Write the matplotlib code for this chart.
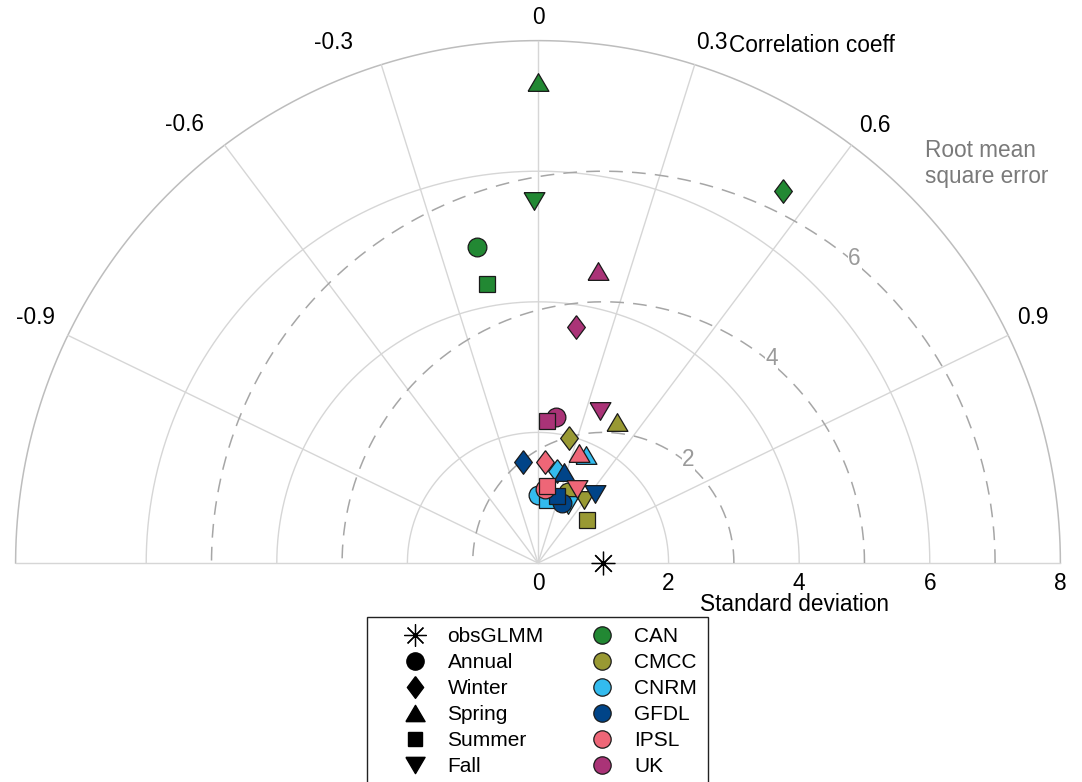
import numpy as np
import matplotlib.pyplot as plt
from matplotlib.lines import Line2D

plt.rcParams['font.family'] = ['Liberation Sans', 'DejaVu Sans']

# model names and colours
models = ['CAN', 'CMCC', 'CNRM', 'GFDL', 'IPSL', 'UK']
model_colors = ['#228833', '#999933', '#33bbee', '#004488', '#ee6677', '#aa3377']
seasons = ['Annual', 'Winter', 'Spring', 'Summer', 'Fall']

# standard deviation / correlation per model, order: annual, winter, spring, summer, fall
std_can = [4.93, 6.83, 7.37, 4.34, 5.54]
cor_can = [-0.19, 0.55, 0.00, -0.18, -0.01]
std_cmcc = [1.18, 1.97, 2.48, 1.00, 1.20]
cor_cmcc = [0.39, 0.24, 0.49, 0.75, 0.59]
std_cnrm = [1.04, 1.44, 1.81, 0.98, 1.00]
cor_cnrm = [0.00, 0.20, 0.41, 0.14, 0.46]
std_gfdl = [0.99, 1.56, 1.45, 1.07, 1.37]
cor_gfdl = [0.37, -0.15, 0.27, 0.27, 0.64]
std_ipsl = [1.14, 1.55, 1.80, 1.19, 1.28]
cor_ipsl = [0.09, 0.07, 0.35, 0.12, 0.47]
std_uk = [2.25, 3.66, 4.56, 2.18, 2.51]
cor_uk = [0.12, 0.16, 0.20, 0.06, 0.38]

std_obs = 1.0

corr_ticks = [-0.9, -0.6, -0.3, 0.0, 0.3, 0.6, 0.9]
corr_labels = ['-0.9', '-0.6', '-0.3', '0', '0.3', '0.6', '0.9']
std_ticks = [0, 2, 4, 6, 8]
rms_levels = [2, 4, 6]

all_std = [std_can, std_cmcc, std_cnrm, std_gfdl, std_ipsl, std_uk]
all_cor = [cor_can, cor_cmcc, cor_cnrm, cor_gfdl, cor_ipsl, cor_uk]

# marker shapes (matlab-like proportions)
tri_up = [(-1, -0.85), (1, -0.85), (0, 0.85), (-1, -0.85)]
tri_dn = [(-1, 0.85), (1, 0.85), (0, -0.85), (-1, 0.85)]
diamond = [(0, 1), (0.75, 0), (0, -1), (-0.75, 0), (0, 1)]
season_markers = ['o', diamond, tri_up, 's', tri_dn]
season_sizes = [13.5, 17, 15, 11, 15]

RMAX = 8
FS = 16.3

fig = plt.figure(figsize=(10.82, 7.82), dpi=100)
ax = fig.add_axes([0, 0, 1, 1])
ax.set_xlim(-8.239, 8.331)
ax.set_ylim(-3.354, 8.622)
ax.axis('off')

th = np.linspace(0, np.pi, 500)
grid_c = '#d6d6d6'

# std circles and outer rim
for s in std_ticks[1:-1]:
    ax.plot(s * np.cos(th), s * np.sin(th), color=grid_c, lw=1.0, zorder=1)
ax.plot(RMAX * np.cos(th), RMAX * np.sin(th), color='#bdbdbd', lw=1.1, zorder=1)
ax.plot([-RMAX, RMAX], [0, 0], color=grid_c, lw=1.0, zorder=1)

# correlation spokes and labels
lab_shift = [-0.2, 2.0, 4.0, 0.0, -1.0, -0.7, 0.5]
lab_rad = [8.57, 8.63, 8.57, 8.35, 8.41, 8.46, 8.46]
for c, lab, dsh, rr in zip(corr_ticks, corr_labels, lab_shift, lab_rad):
    a = np.arccos(c)
    ax.plot([0, RMAX * np.cos(a)], [0, RMAX * np.sin(a)], color=grid_c, lw=1.0, zorder=1)
    b = a + np.deg2rad(dsh)
    ax.text(rr * np.cos(b), rr * np.sin(b), lab, ha='center', va='center', fontsize=FS)

# std tick labels along the positive axis
for s in std_ticks:
    ax.text(s, -0.31, str(s), ha='center', va='center', fontsize=FS)

# RMSE contours around the reference
for r in rms_levels:
    ax.plot(std_obs + r * np.cos(th), r * np.sin(th), color='#a6a6a6', lw=1.1,
            dashes=(9, 6), zorder=2)
    ang = np.deg2rad(50.5)
    ax.text(std_obs + (r + 0.05) * np.cos(ang), (r + 0.05) * np.sin(ang), str(r),
            color='#9a9a9a', fontsize=FS, ha='center', va='center', zorder=3,
            bbox=dict(fc='white', ec='none', pad=0.5))

ax.text(2.92, 7.93, 'Correlation coeff', fontsize=FS, ha='left', va='center')
ax.text(5.93, 6.12, 'Root mean\nsquare error', fontsize=FS, ha='left', va='center',
        color='#7a7a7a', linespacing=1.15)
ax.text(2.48, -0.64, 'Standard deviation', fontsize=FS, ha='left', va='center')

# model points
for std_m, cor_m, col in zip(all_std, all_cor, model_colors):
    for s, c, mk, ms in zip(std_m, cor_m, season_markers, season_sizes):
        a = np.arccos(c)
        ax.plot(s * np.cos(a), s * np.sin(a), ls='none', marker=mk, ms=ms,
                mfc=col, mec='#1a1a1a', mew=0.9, zorder=4)

# observation reference
ax.plot(std_obs, 0, ls='none', marker=(8, 2, 0), ms=17, color='k', mew=0.9, zorder=5)

# legend
handles = [Line2D([], [], ls='none', marker=(8, 2, 0), ms=16, color='k', mew=0.9)]
labels = ['obsGLMM']
for name, mk, ms in zip(seasons, season_markers, season_sizes):
    handles.append(Line2D([], [], ls='none', marker=mk, ms=ms * 0.92, mfc='k', mec='k'))
    labels.append(name)
for name, col in zip(models, model_colors):
    handles.append(Line2D([], [], ls='none', marker='o', ms=12.5, mfc=col,
                          mec='#1a1a1a', mew=0.9))
    labels.append(name)

leg = ax.legend(handles, labels, ncol=2, loc='upper center',
                bbox_to_anchor=(537.5 / 1082, 1 - 617 / 782), bbox_transform=fig.transFigure,
                fontsize=15, frameon=True, fancybox=False, framealpha=1,
                borderpad=0.5, borderaxespad=0, handlelength=3.62, handletextpad=-0.27,
                columnspacing=1.0, labelspacing=0.33, numpoints=1)
leg.get_frame().set_edgecolor('#222222')
leg.get_frame().set_linewidth(1.0)

fig.savefig('out.png', dpi=100)
